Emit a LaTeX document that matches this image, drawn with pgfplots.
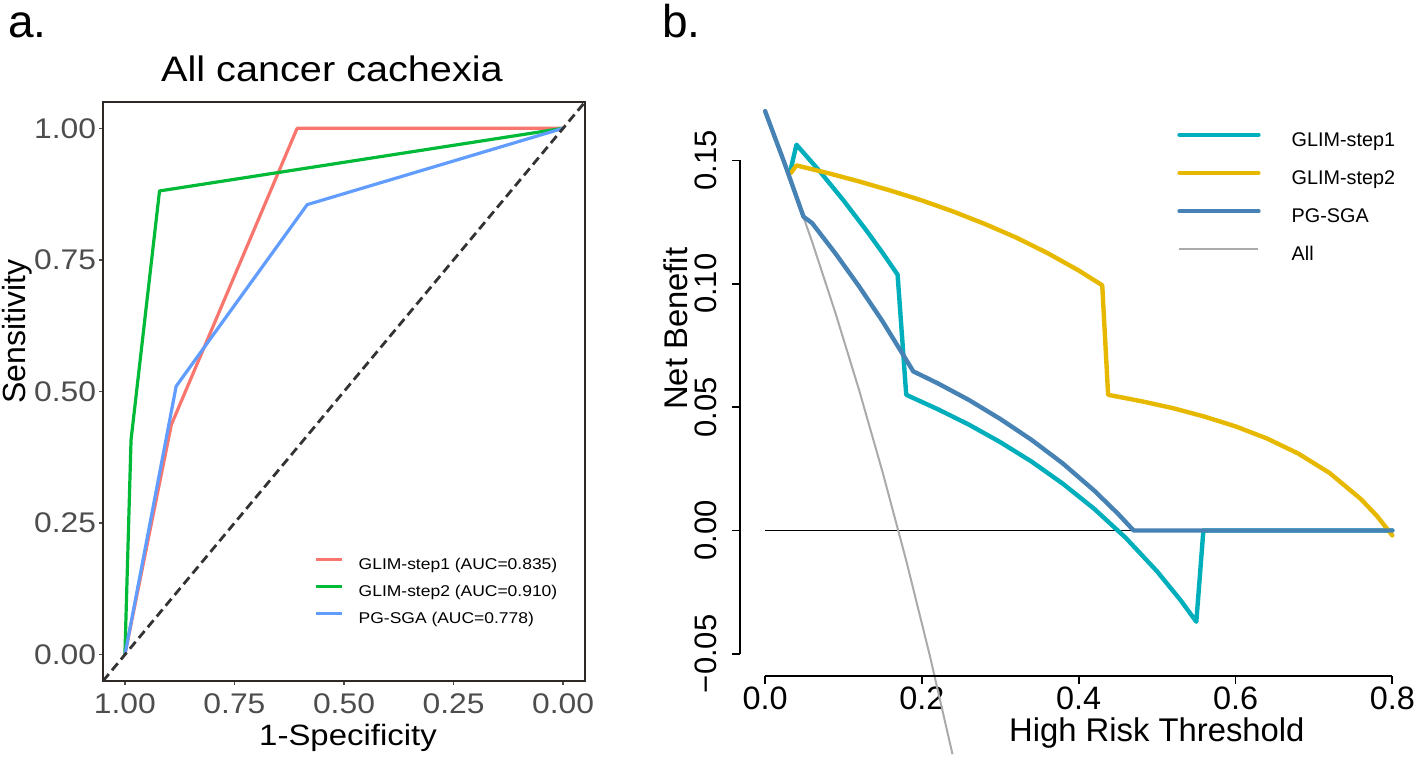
\documentclass[border=0pt]{standalone}
\usepackage{fontspec}
\setmainfont{Liberation Sans}
\newfontfamily\afont{Liberation Sans}[FakeStretch=1.12]
\usepackage{pgfplots}
\pgfplotsset{compat=1.18}

\definecolor{rocred}{HTML}{F8766D}
\definecolor{rocgreen}{HTML}{00BA38}
\definecolor{rocblue}{HTML}{619CFF}
\definecolor{framecol}{HTML}{2E2826}
\definecolor{ticktext}{HTML}{4D4D4D}
\definecolor{dcateal}{HTML}{00AFBB}
\definecolor{dcagold}{HTML}{E7B800}
\definecolor{dcablue}{HTML}{4682B4}
\definecolor{dcagray}{HTML}{AAAAAA}

\begin{document}
\begin{tikzpicture}
\path[use as bounding box] (0,0) rectangle (708pt,379.5pt);

% panel letters and title
\node[anchor=base west, inner sep=0pt, font=\fontsize{23}{23}\selectfont] at (4pt,360.5pt) {a.};
\node[anchor=base west, inner sep=0pt, font=\fontsize{23}{23}\selectfont] at (331pt,360.5pt) {b.};
\node[anchor=base, inner sep=0pt, font=\afont\fontsize{17.7}{18}\selectfont] at (166pt,338.5pt) {All cancer cachexia};

% ---- a. ROC curves
\begin{axis}[
    at={(51.5pt,39pt)}, anchor=south west,
    scale only axis, width=241pt, height=289.5pt,
    x dir=reverse,
    xmin=-0.05, xmax=1.05, ymin=-0.05, ymax=1.05,
    xtick={0,0.25,0.5,0.75,1}, xticklabels={0.00,0.25,0.50,0.75,1.00},
    ytick={0,0.25,0.5,0.75,1}, yticklabels={0.00,0.25,0.50,0.75,1.00},
    xtick pos=bottom, ytick pos=left, tick align=outside,
    major tick length=1.8pt,
    tick style={ticktext, line width=0.6pt},
    axis line style={framecol, line width=1.4pt},
    ticklabel style={font=\afont\fontsize{14.2}{14}\selectfont, text=ticktext},
    xticklabel style={inner sep=4.5pt},
    yticklabel style={inner sep=1.5pt},
    /pgf/number format/assume math mode=true,
    xlabel={1-Specificity},
    xlabel style={at={(axis description cs:0.5,0)}, anchor=base, yshift=-32pt, xshift=2pt,
        font=\afont\fontsize{14.7}{15}\selectfont},
    ylabel={Sensitivity},
    ylabel style={at={(axis description cs:0,0.603)}, anchor=base, yshift=38.5pt,
        font=\fontsize{16}{16}\selectfont},
    legend style={at={(axis description cs:0.438,0.214)}, anchor=north west,
        draw=none, fill=none, inner sep=0pt,
        font=\afont\fontsize{7.8}{8}\selectfont,
        row sep=5.5pt, column sep=7.5pt,
        nodes={inner sep=0pt, text height=6pt, text depth=2pt}},
    legend cell align=left,
    legend image code/.code={\draw[#1] (0pt,2.8pt) -- (13pt,2.8pt);},
]
\addplot[rocred, line width=1.6pt, line join=round] coordinates {(1,0) (0.894,0.437) (0.607,1) (0,1)};
\addlegendentry{GLIM-step1 (AUC=0.835)}
\addplot[rocgreen, line width=1.6pt, line join=round] coordinates {(1,0) (0.986,0.408) (0.921,0.881) (0,1)};
\addlegendentry{GLIM-step2 (AUC=0.910)}
\addplot[rocblue, line width=1.6pt, line join=round] coordinates {(1,0) (0.883,0.510) (0.584,0.855) (0,1)};
\addlegendentry{PG-SGA (AUC=0.778)}
\addplot[black!80, line width=1.4pt, dash pattern=on 4.5pt off 2.5pt, forget plot] coordinates {(1.05,-0.05) (-0.05,1.05)};
\end{axis}

% ---- b. decision curves
\begin{axis}[
    at={(370pt,41.5pt)}, anchor=south west,
    scale only axis, width=334pt, height=294.75pt,
    xmin=-0.032, xmax=0.82, ymin=-0.059, ymax=0.18,
    clip=false,
    axis lines*=left, axis line style={draw=none},
    xtick={0,0.2,0.4,0.6,0.8}, xticklabels={0.0,0.2,0.4,0.6,0.8},
    ytick={-0.05,0,0.05,0.1,0.15}, yticklabels={−0.05,0.00,0.05,0.10,0.15},
    tick align=outside, major tick length=3.8pt,
    tick style={black, line width=0.85pt},
    /pgf/number format/assume math mode=true,
    xticklabel style={font=\fontsize{16.2}{16}\selectfont, inner sep=1.5pt},
    yticklabel style={font=\fontsize{15.5}{15}\selectfont, rotate=90, anchor=south, inner sep=7.5pt},
    xlabel={High Risk Threshold},
    xlabel style={at={(axis description cs:0.624,0)}, anchor=base, yshift=-32.8pt,
        font=\fontsize{16.4}{16}\selectfont},
    ylabel={Net Benefit},
    ylabel style={at={(axis description cs:0,0.589)}, anchor=base, yshift=26.5pt,
        font=\fontsize{16.4}{16}\selectfont},
    legend style={at={(axis description cs:0.654,0.923)}, anchor=north west,
        draw=none, fill=none, inner sep=0pt,
        font=\fontsize{9.9}{10}\selectfont,
        row sep=9.6pt, column sep=15.5pt,
        nodes={inner sep=0pt, text height=7pt, text depth=2.5pt}},
    legend cell align=left,
    legend image code/.code={\draw[#1] (0pt,3.5pt) -- (39.5pt,3.5pt);},
]
\addplot[black, line width=0.8pt, forget plot] coordinates {(0,0) (0.8,0)};
\addplot[dcagray, line width=1pt, forget plot] coordinates {
    (0,0.170) (0.03,0.1443) (0.06,0.1170) (0.09,0.0879) (0.12,0.0568)
    (0.15,0.0235) (0.18,-0.0122) (0.21,-0.0506) (0.239,-0.0907)};
\addplot[dcateal, line width=2.2pt, line join=round, line cap=round] coordinates {
    (0.032,0.1455) (0.040,0.1564) (0.07,0.1455) (0.10,0.1338) (0.13,0.1213)
    (0.15,0.1125) (0.169,0.1037) (0.180,0.0550) (0.22,0.0492) (0.26,0.0429)
    (0.30,0.0358) (0.34,0.0279) (0.38,0.0189) (0.42,0.0087) (0.46,-0.0030)
    (0.50,-0.0166) (0.53,-0.0283) (0.55,-0.0370) (0.559,0) (0.8,0)};
\addlegendentry{GLIM-step1}
\addplot[dcagold, line width=2.2pt, line join=round, line cap=round] coordinates {
    (0.033,0.145) (0.040,0.148) (0.08,0.1449) (0.12,0.1415) (0.16,0.1378)
    (0.20,0.1338) (0.24,0.1293) (0.28,0.1243) (0.32,0.1188) (0.36,0.1125)
    (0.40,0.1054) (0.43,0.0994) (0.4375,0.055) (0.48,0.0524) (0.52,0.0496)
    (0.56,0.0462) (0.60,0.0422) (0.64,0.0373) (0.68,0.0312) (0.72,0.0233)
    (0.76,0.0127) (0.78,0.0060) (0.80,-0.0020)};
\addlegendentry{GLIM-step2}
\addplot[dcablue, line width=2.2pt, line join=round, line cap=round] coordinates {
    (0,0.170) (0.025,0.1487) (0.049,0.1272) (0.060,0.1246) (0.09,0.1122)
    (0.12,0.0989) (0.15,0.0847) (0.189,0.0645) (0.22,0.0597) (0.26,0.0529)
    (0.30,0.0452) (0.34,0.0367) (0.38,0.0271) (0.42,0.0161) (0.45,0.0068)
    (0.47,0) (0.8,0)};
\addlegendentry{PG-SGA}
\addlegendimage{dcagray, line width=1pt}
\addlegendentry{All}
\draw[black, line width=0.85pt] (axis cs:0,-0.059) -- (axis cs:0.8,-0.059);
\draw[black, line width=0.85pt] (axis cs:-0.032,-0.05) -- (axis cs:-0.032,0.15);
\end{axis}
\end{tikzpicture}
\end{document}
